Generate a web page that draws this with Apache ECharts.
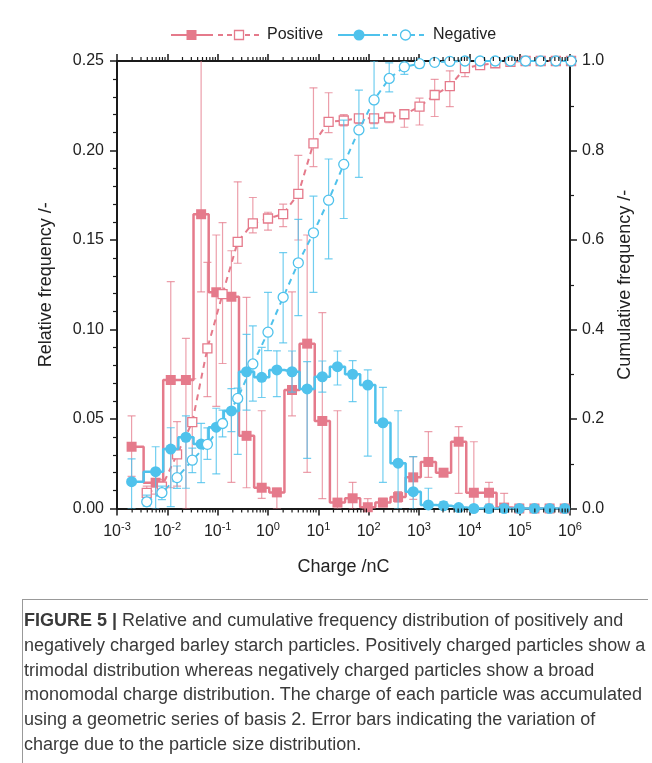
<!DOCTYPE html>
<html><head><meta charset="utf-8">
<script src="https://cdn.jsdelivr.net/npm/echarts@6/dist/echarts.min.js"></script>
<style>
html,body{margin:0;padding:0;background:#fff;}
#chart{position:absolute;left:0;top:0;width:652px;height:763px;}
#cap{position:absolute;left:24px;top:608px;width:640px;font-family:'Liberation Sans',Arial,sans-serif;font-size:18px;line-height:24.8px;color:#3a3a3a;white-space:nowrap;}
#hl{position:absolute;left:22px;top:599px;width:626px;height:1px;background:#999;}
#vl{position:absolute;left:22px;top:599px;width:1px;height:164px;background:#999;}
</style></head><body>
<div id="chart"></div>
<div id="hl"></div><div id="vl"></div>
<div id="cap"><b>FIGURE 5 |</b> Relative and cumulative frequency distribution of positively and<br>negatively charged barley starch particles. Positively charged particles show a<br>trimodal distribution whereas negatively charged particles show a broad<br>monomodal charge distribution. The charge of each particle was accumulated<br>using a geometric series of basis 2. Error bars indicating the variation of<br>charge due to the particle size distribution.</div>
<script>
// ---- data ----
const relCharge = [0.00195, 0.00586, 0.0117, 0.0234, 0.0469, 0.0938, 0.1875, 0.375, 0.75, 1.5, 3, 6, 12, 24, 48, 96, 192, 384, 768, 1536, 3072, 6144, 12288, 24576, 49152, 98304, 196608, 393216, 786432];
const cumCharge = [0.0039, 0.0078, 0.0156, 0.0313, 0.0625, 0.125, 0.25, 0.5, 1, 2, 4, 8, 16, 32, 64, 128, 256, 512, 1024, 2048, 4096, 8192, 16384, 32768, 65536, 131072, 262144, 524288, 1048576];

const posRel   = [0.0345, 0.0144, 0.0718, 0.0718, 0.1644, 0.1208, 0.1183, 0.0406, 0.0116, 0.0090, 0.0662, 0.0921, 0.0489, 0.0033, 0.0057, 0.0007, 0.0033, 0.0064, 0.0174, 0.0260, 0.0200, 0.0373, 0.0088, 0.0088, 0.0005, 0, 0, 0, 0];
const posRelLo = [0.018, 0.008, 0.0116, 0, 0.121, 0.057, 0.0146, 0.0116, 0.0057, 0, 0.0518, 0.0202, 0.0055, 0, 0, 0, 0.001, 0.0035, 0.0051, 0.0174, 0.018, 0.0085, 0, 0.0025, 0, 0, 0, 0, 0];
const posRelHi = [0.0517, 0.020, 0.1267, 0.095, 0.26, 0.1528, 0.144, 0.118, 0.0546, 0.0112, 0.121, 0.1528, 0.1094, 0.0546, 0.0146, 0.0055, 0.0057, 0.0095, 0.029, 0.0429, 0.022, 0.0457, 0.0373, 0.0146, 0.0085, 0, 0, 0, 0];

const negRel   = [0.015, 0.0206, 0.0332, 0.0398, 0.036, 0.0454, 0.0545, 0.0764, 0.0733, 0.0774, 0.0764, 0.0668, 0.0736, 0.0792, 0.075, 0.069, 0.0479, 0.0253, 0.0094, 0.002, 0.0015, 0.0005, 0, 0, 0, 0, 0, 0, 0];
const negRelLo = [0, 0, 0.001, 0.0113, 0.0144, 0.0193, 0.043, 0.055, 0.062, 0.0625, 0.065, 0.028, 0.065, 0.069, 0.0597, 0.0293, 0.0146, 0, 0, 0, 0, 0, 0, 0, 0, 0, 0, 0, 0];
const negRelHi = [0.0277, 0.0345, 0.0451, 0.0517, 0.0476, 0.056, 0.067, 0.0973, 0.090, 0.0881, 0.088, 0.082, 0.0824, 0.088, 0.0826, 0.0774, 0.0677, 0.0546, 0.029, 0.0113, 0.0038, 0, 0, 0, 0, 0, 0, 0, 0];

const posCum   = [0.035, 0.049, 0.121, 0.193, 0.358, 0.479, 0.596, 0.637, 0.648, 0.658, 0.703, 0.816, 0.864, 0.867, 0.872, 0.872, 0.874, 0.881, 0.898, 0.924, 0.944, 0.984, 0.991, 0.995, 0.998, 1.0, 1.0, 1.0, 1.0];
const posCumLo = [0.025, 0.035, 0.05, 0.10, 0.25, 0.324, 0.548, 0.616, 0.622, 0.63, 0.60, 0.764, 0.84, 0.855, 0.86, 0.86, 0.862, 0.852, 0.857, 0.876, 0.898, 0.965, 0.985, 0.99, 0.995, 1.0, 1.0, 1.0, 1.0];
const posCumHi = [0.05, 0.065, 0.194, 0.29, 0.55, 0.639, 0.73, 0.695, 0.662, 0.68, 0.789, 0.94, 0.929, 0.88, 0.88, 0.88, 0.885, 0.888, 0.917, 0.959, 0.978, 1.0, 0.995, 0.999, 1.0, 1.0, 1.0, 1.0, 1.0];

const negCum   = [0.015, 0.0353, 0.069, 0.108, 0.1434, 0.19, 0.246, 0.323, 0.394, 0.472, 0.549, 0.616, 0.689, 0.769, 0.846, 0.913, 0.961, 0.987, 0.994, 0.997, 0.999, 1.0, 1.0, 1.0, 1.0, 1.0, 1.0, 1.0, 1.0];
const negCumLo = [0.005, 0.02, 0.045, 0.08, 0.11, 0.16, 0.121, 0.24, 0.353, 0.37, 0.431, 0.483, 0.558, 0.648, 0.74, 0.85, 0.931, 0.97, 0.985, 0.99, 0.995, 1.0, 1.0, 1.0, 1.0, 1.0, 1.0, 1.0, 1.0];
const negCumHi = [0.03, 0.05, 0.095, 0.135, 0.18, 0.22, 0.269, 0.408, 0.483, 0.572, 0.646, 0.698, 0.781, 0.868, 0.935, 1.0, 0.996, 1.0, 1.0, 1.0, 1.0, 1.0, 1.0, 1.0, 1.0, 1.0, 1.0, 1.0, 1.0];

const xTickExps = [-3, -2, -1, 0, 1, 2, 3, 4, 5, 6];
const leftTicks = [0, 0.05, 0.10, 0.15, 0.20, 0.25];
const rightTicks = [0, 0.2, 0.4, 0.6, 0.8, 1.0];

// ---- styles ----
const PINK = '#e57a8b', BLUE = '#4fc2ec';
const PINK_ERR = 'rgba(229,122,139,0.72)', BLUE_ERR = 'rgba(79,194,236,0.8)';
const FONT = "'Liberation Sans', Arial, Helvetica, sans-serif";
const AX = '#1a1a1a';

const chart = echarts.init(document.getElementById('chart'), null, {renderer: 'canvas'});

function errSeries(xs, lo, hi, color, yIdx, z) {
  return {
    type: 'custom', yAxisIndex: yIdx, z: z, clip: true, silent: true,
    data: xs.map((c, i) => [c, lo[i], hi[i]]),
    renderItem: function (params, api) {
      const x = api.value(0), l = api.value(1), h = api.value(2);
      if (h - l <= 0) return null;
      const p1 = api.coord([x, l]), p2 = api.coord([x, h]);
      const w = 4, st = {stroke: color, lineWidth: 1.2};
      return {type: 'group', children: [
        {type: 'line', shape: {x1: p1[0], y1: p1[1], x2: p2[0], y2: p2[1]}, style: st},
        {type: 'line', shape: {x1: p1[0] - w, y1: p1[1], x2: p1[0] + w, y2: p1[1]}, style: st},
        {type: 'line', shape: {x1: p2[0] - w, y1: p2[1], x2: p2[0] + w, y2: p2[1]}, style: st}
      ]};
    }
  };
}

// minor ticks of the log axes (2..9 x 10^n), drawn at the library's coordinates
const minorVals = [];
for (let e = -3; e <= 5; e++) for (let m = 2; m <= 9; m++) minorVals.push(m * Math.pow(10, e));
const minorTickSeries = {
  type: 'custom', z: 10, clip: false, silent: true,
  data: minorVals.map(v => [v]),
  renderItem: function (params, api) {
    const v = api.value(0);
    const b = api.coord([v, 0]), t = api.coord([v, 0.25]);
    const st = {stroke: AX, lineWidth: 1.2};
    return {type: 'group', children: [
      {type: 'line', shape: {x1: b[0], y1: b[1], x2: b[0], y2: b[1] + 4}, style: st},
      {type: 'line', shape: {x1: t[0], y1: t[1], x2: t[0], y2: t[1] - 4}, style: st}
    ]};
  }
};

const axisCommon = {
  axisLine: {show: true, onZero: false, lineStyle: {color: AX, width: 2}},
  axisTick: {show: true, inside: false, length: 7, lineStyle: {color: AX, width: 1.5}},
  splitLine: {show: false}
};

// legend built with graphic elements (visual key only)
const ly = 35;
const legendGraphic = [
  {type: 'line', shape: {x1: 171, y1: ly, x2: 213, y2: ly}, style: {stroke: PINK, lineWidth: 2}},
  {type: 'rect', shape: {x: 186.5, y: ly - 5, width: 10, height: 10}, style: {fill: PINK}},
  {type: 'line', shape: {x1: 218, y1: ly, x2: 262, y2: ly}, style: {stroke: PINK, lineWidth: 2, lineDash: [5, 4]}},
  {type: 'rect', shape: {x: 234.5, y: ly - 4.5, width: 9, height: 9}, style: {fill: '#fff', stroke: PINK, lineWidth: 1.3}},
  {type: 'text', x: 267, y: ly, style: {text: 'Positive', fill: '#222', font: '16px ' + FONT, textVerticalAlign: 'middle'}},
  {type: 'line', shape: {x1: 338, y1: ly, x2: 380, y2: ly}, style: {stroke: BLUE, lineWidth: 2}},
  {type: 'circle', shape: {cx: 359, cy: ly, r: 5.5}, style: {fill: BLUE}},
  {type: 'line', shape: {x1: 383, y1: ly, x2: 428, y2: ly}, style: {stroke: BLUE, lineWidth: 2, lineDash: [5, 4]}},
  {type: 'circle', shape: {cx: 405.5, cy: ly, r: 5}, style: {fill: '#fff', stroke: BLUE, lineWidth: 1.3}},
  {type: 'text', x: 433, y: ly, style: {text: 'Negative', fill: '#222', font: '16px ' + FONT, textVerticalAlign: 'middle'}}
];

const option = {
  animation: false,
  backgroundColor: '#fff',
  textStyle: {fontFamily: FONT},
  grid: {left: 117, right: 82, top: 61, bottom: 254.5, containLabel: false},
  xAxis: [
    Object.assign({}, axisCommon, {
      type: 'log', logBase: 10, min: 1e-3, max: 1e6, splitNumber: 9, position: 'bottom',
      name: 'Charge /nC', nameLocation: 'middle', nameGap: 50,
      nameTextStyle: {fontSize: 18, color: '#222', fontFamily: FONT},
      axisLabel: {
        color: '#222', fontSize: 16, margin: 13, fontFamily: FONT,
        formatter: function (v) {
          const e = Math.round(Math.log10(v));
          if (xTickExps.indexOf(e) < 0) return '';
          return '10{s|' + e + '}';
        },
        rich: {s: {fontSize: 11, verticalAlign: 'top', padding: [0, 0, 9, 0], color: '#222', fontFamily: FONT}}
      }
    }),
    Object.assign({}, axisCommon, {
      type: 'log', logBase: 10, min: 1e-3, max: 1e6, splitNumber: 9, position: 'top',
      axisLabel: {show: false}
    })
  ],
  yAxis: [
    Object.assign({}, axisCommon, {
      type: 'value', min: 0, max: 0.25, interval: 0.05, position: 'left',
      name: 'Relative frequency /-', nameLocation: 'middle', nameGap: 62,
      nameTextStyle: {fontSize: 18, color: '#222', fontFamily: FONT},
      minorTick: {show: true, splitNumber: 5, length: 4, lineStyle: {color: AX, width: 1.2}},
      axisLabel: {color: '#222', fontSize: 16, margin: 13, fontFamily: FONT,
        formatter: v => leftTicks.some(t => Math.abs(t - v) < 1e-9) ? v.toFixed(2) : ''}
    }),
    Object.assign({}, axisCommon, {
      type: 'value', min: 0, max: 1, interval: 0.2, position: 'right',
      name: 'Cumulative frequency /-', nameLocation: 'middle', nameGap: 46,
      nameTextStyle: {fontSize: 18, color: '#222', fontFamily: FONT},
      minorTick: {show: true, splitNumber: 2, length: 4, lineStyle: {color: AX, width: 1.2}},
      axisLabel: {color: '#222', fontSize: 16, margin: 12, fontFamily: FONT,
        formatter: v => rightTicks.some(t => Math.abs(t - v) < 1e-9) ? v.toFixed(1) : ''}
    })
  ],
  graphic: legendGraphic,
  series: [
    minorTickSeries,
    errSeries(relCharge, posRelLo, posRelHi, PINK_ERR, 0, 2),
    errSeries(cumCharge, posCumLo, posCumHi, PINK_ERR, 1, 2),
    {
      name: 'Positive', type: 'line', yAxisIndex: 0, step: 'middle', z: 3,
      data: relCharge.map((c, i) => [c, posRel[i]]),
      symbol: 'rect', symbolSize: 10, itemStyle: {color: PINK},
      lineStyle: {color: PINK, width: 2.5}
    },
    {
      name: 'Positive cumulative', type: 'line', yAxisIndex: 1, z: 3, clip: false,
      data: cumCharge.map((c, i) => [c, posCum[i]]),
      symbol: 'rect', symbolSize: 9, showAllSymbol: true,
      itemStyle: {color: '#fff', borderColor: PINK, borderWidth: 1.3},
      lineStyle: {color: PINK, width: 2, type: [6, 5]}
    },
    errSeries(relCharge, negRelLo, negRelHi, BLUE_ERR, 0, 4),
    errSeries(cumCharge, negCumLo, negCumHi, BLUE_ERR, 1, 4),
    {
      name: 'Negative', type: 'line', yAxisIndex: 0, step: 'middle', z: 5,
      data: relCharge.map((c, i) => [c, negRel[i]]),
      symbol: 'circle', symbolSize: 11, showAllSymbol: true, itemStyle: {color: BLUE},
      lineStyle: {color: BLUE, width: 2.5}
    },
    {
      name: 'Negative cumulative', type: 'line', yAxisIndex: 1, z: 5, clip: false,
      data: cumCharge.map((c, i) => [c, negCum[i]]),
      symbol: 'circle', symbolSize: 10, showAllSymbol: true,
      itemStyle: {color: '#fff', borderColor: BLUE, borderWidth: 1.3},
      lineStyle: {color: BLUE, width: 2, type: [6, 5]}
    }
  ]
};
chart.setOption(option);
</script>
</body></html>
